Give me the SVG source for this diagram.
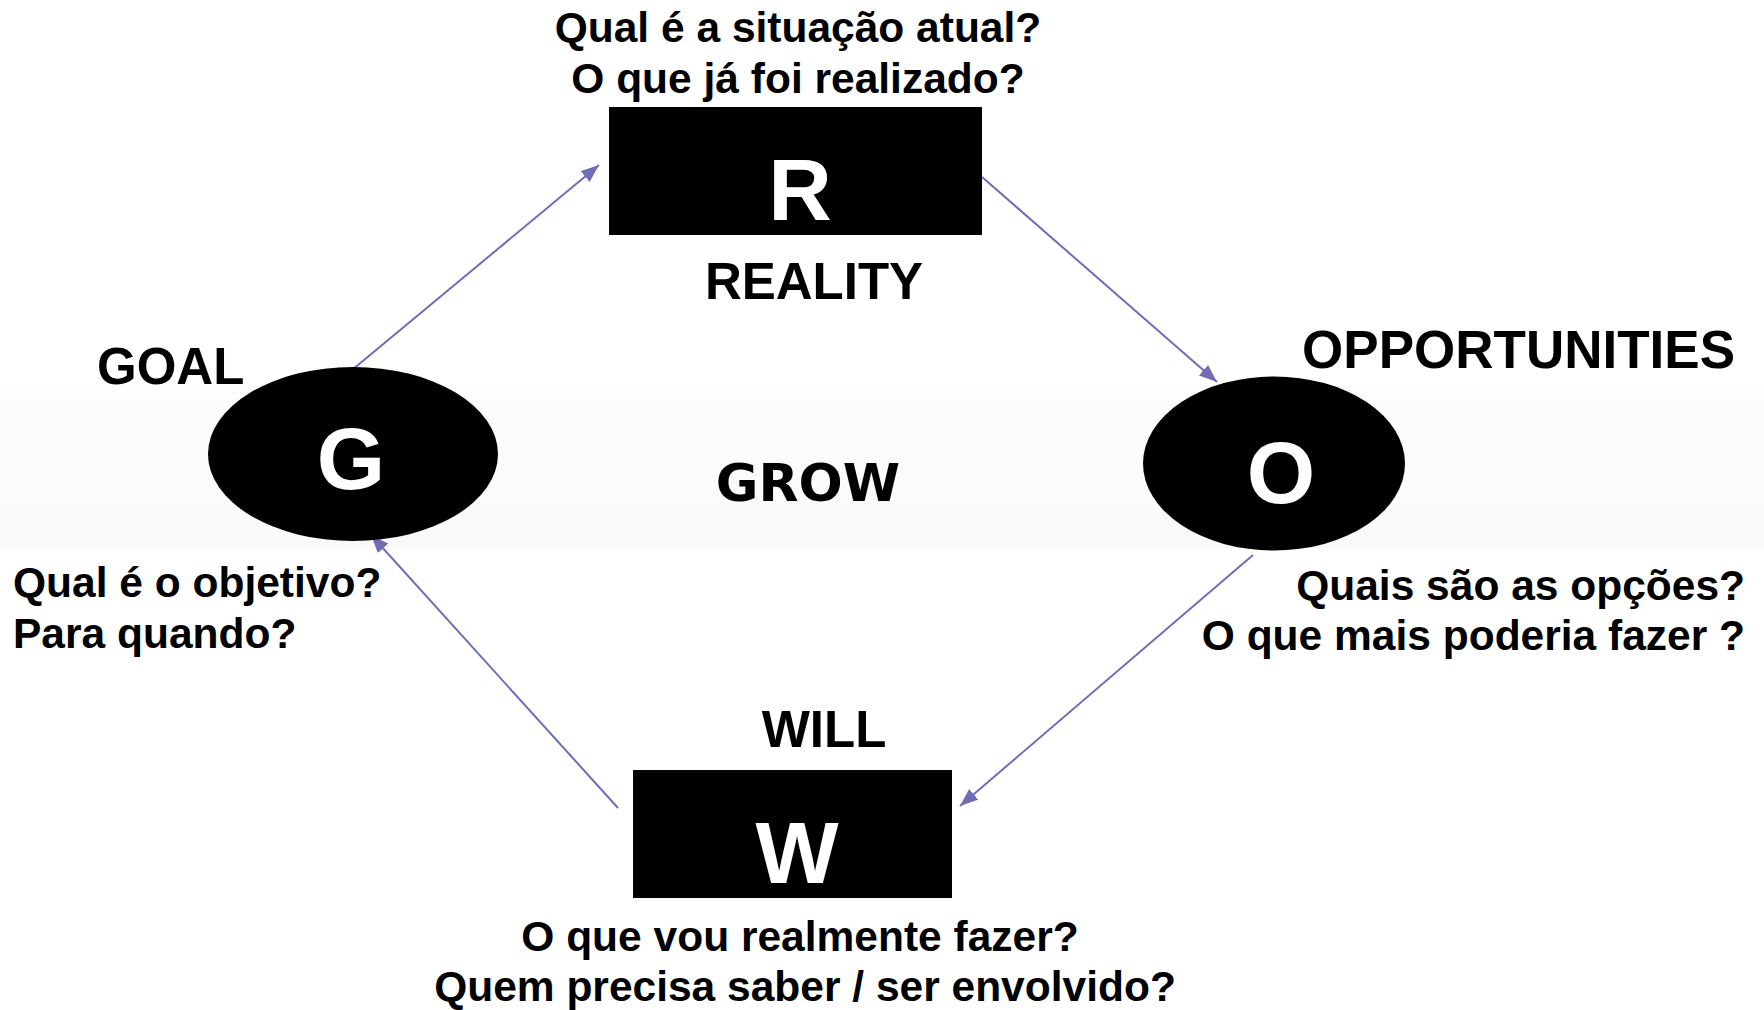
<svg xmlns="http://www.w3.org/2000/svg" width="1764" height="1010" viewBox="0 0 1764 1010">
<defs>
<linearGradient id="bg" x1="0" y1="0" x2="0" y2="1">
<stop offset="0" stop-color="#fdfdfd"/>
<stop offset="1" stop-color="#f9f9f9"/>
</linearGradient>
<marker id="ah" viewBox="0 0 18 14" refX="18" refY="7" markerWidth="18" markerHeight="14" markerUnits="userSpaceOnUse" orient="auto">
<path d="M0,0 L18,7 L0,14 Z" fill="#716cb4"/>
</marker>
<style>
.t{font-family:"Liberation Sans",Arial,sans-serif;font-weight:bold;fill:#000}
.q{font-size:42.5px}
.lb{font-size:51px}
.big{font-size:88px;fill:#fff}
.grow{font-family:"DejaVu Sans",Verdana,sans-serif;font-weight:bold;font-size:52px;fill:#000}
.node{fill:#000}
.c{stroke:#716cb4;stroke-width:2;fill:none;marker-end:url(#ah)}
</style>
</defs>
<rect x="0" y="0" width="1764" height="1010" fill="#ffffff"/>
<rect x="0" y="385" width="1764" height="163" fill="url(#bg)"/>

<g id="connectors">
<line class="c" x1="352" y1="370" x2="599" y2="165"/>
<line class="c" x1="982" y1="177" x2="1217" y2="382"/>
<line class="c" x1="1253" y1="555" x2="960" y2="806"/>
<line class="c" x1="618" y1="808" x2="371" y2="535"/>
</g>

<g id="node-R">
<rect class="node" x="609" y="107" width="373" height="128"/>
<text class="t big" x="800" y="220" text-anchor="middle">R</text>
<text class="t q" x="798" y="42" text-anchor="middle">Qual é a situação atual?</text>
<text class="t q" x="798" y="93" text-anchor="middle">O que já foi realizado?</text>
<text class="t lb" x="814" y="299" text-anchor="middle">REALITY</text>
</g>

<g id="node-G">
<ellipse class="node" cx="353" cy="454" rx="145" ry="87"/>
<text class="t big" x="351" y="489" text-anchor="middle">G</text>
<text class="t lb" x="97" y="384">GOAL</text>
<text class="t q" x="13" y="597">Qual é o objetivo?</text>
<text class="t q" x="13" y="648">Para quando?</text>
</g>

<g id="node-O">
<ellipse class="node" cx="1274" cy="463.5" rx="131" ry="87"/>
<text class="t big" x="1281" y="503" text-anchor="middle">O</text>
<text class="t lb" x="1735" y="368" text-anchor="end" style="font-size:53px">OPPORTUNITIES</text>
<text class="t q" x="1745" y="600" text-anchor="end">Quais são as opções?</text>
<text class="t q" x="1745" y="650" text-anchor="end">O que mais poderia fazer ?</text>
</g>

<g id="node-W">
<rect class="node" x="633" y="770" width="319" height="128"/>
<text class="t big" x="797" y="883" text-anchor="middle">W</text>
<text class="t lb" x="824" y="747" text-anchor="middle">WILL</text>
<text class="t q" x="800" y="951" text-anchor="middle">O que vou realmente fazer?</text>
<text class="t q" x="805" y="1001" text-anchor="middle">Quem precisa saber / ser envolvido?</text>
</g>

<g id="label-GROW">
<text class="grow" x="808" y="501" text-anchor="middle">GROW</text>
</g>
</svg>
